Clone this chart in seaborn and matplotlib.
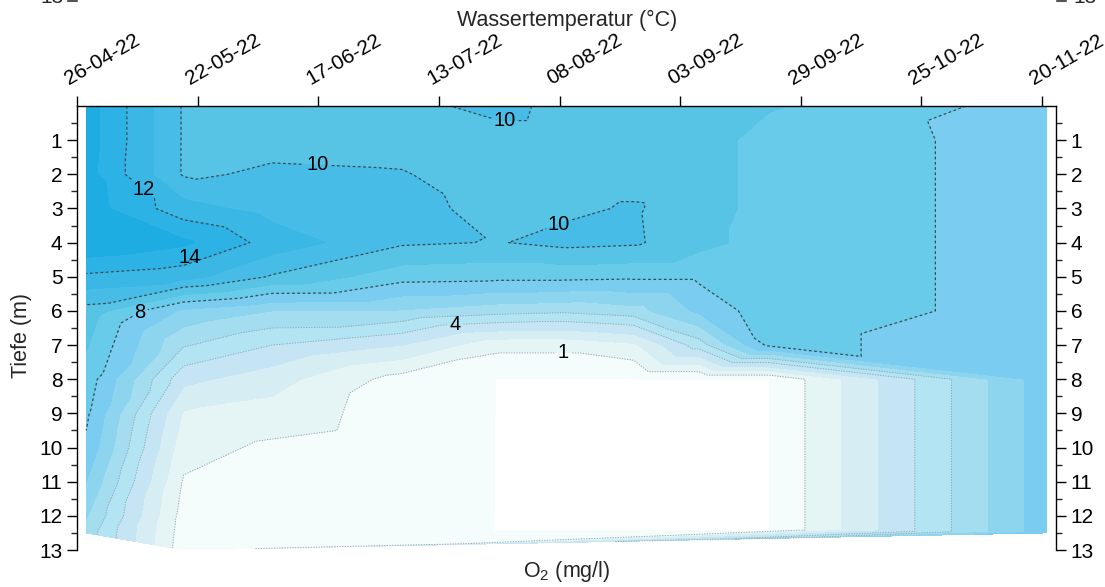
import numpy as np
import pandas as pd
import matplotlib
matplotlib.use("Agg")
import matplotlib.pyplot as plt
import matplotlib.tri as mtri
from matplotlib.ticker import FixedLocator
from matplotlib.transforms import ScaledTranslation
from matplotlib.lines import Line2D
import seaborn as sns

# ---------------- data ----------------
start_date = "2022-04-26"
end_date = "2022-11-23"
sample_dates = ["2022-04-28", "2022-05-19", "2022-06-07", "2022-07-05", "2022-07-26",
                "2022-08-09", "2022-08-24", "2022-09-07", "2022-09-22", "2022-11-21"]
depths = [0, 1, 2, 3, 4, 5, 6, 7, 8, 9, 10, 11, 12]
bottom_depth = [12.5, 13.0, 12.9, 12.85, 12.4, 12.4, 12.4, 12.4, 12.4, 12.5]

# O2 (mg/l) per sampling date: depths 0..12 m, then value at bottom_depth
o2_0428 = [13.5, 13.5, 13.4, 13.5, 13.9, 11.8, 9.6, 9.1, 8.6, 8.2, 7.8, 7.0, 6.1, 5.6]
o2_0519 = [9.9, 9.9, 9.9, 11.4, 13.2, 11.4, 6.8, 5.1, 3.3, 1.9, 1.4, 0.9, 0.6, 0.4]
o2_0607 = [9.8, 9.8, 10.1, 10.6, 11.6, 9.9, 6.0, 4.0, 2.4, 1.6, 0.8, 0.5, 0.35, 0.3]
o2_0705 = [9.7, 9.7, 10.05, 10.3, 10.15, 8.4, 5.9, 3.0, 0.6, 0.5, 0.4, 0.4, 0.35, 0.3]
o2_0726 = [10.3, 9.6, 9.6, 9.7, 9.95, 8.3, 5.4, 1.3, 0, 0, 0, 0, 0, 0]
o2_0809 = [9.7, 9.6, 9.6, 9.8, 10.3, 8.3, 5.2, 1.3, 0, 0, 0, 0, 0, 0]
o2_0824 = [9.6, 9.6, 9.6, 10.1, 10.15, 8.2, 5.6, 1.8, 0, 0, 0, 0, 0, 0]
o2_0907 = [9.5, 9.5, 9.5, 9.5, 9.3, 8.2, 7.2, 4.5, 0, 0, 0, 0, 0, 0]
o2_0922 = [9.1, 8.6, 8.6, 8.6, 8.6, 8.6, 8.6, 8.2, 0, 0, 0, 0, 0, 0]
o2_1121 = [7.55, 7.6, 7.6, 7.6, 7.6, 7.6, 7.6, 7.6, 7.6, 7.6, 7.6, 7.6, 7.6, 7.6]
profiles = [o2_0428, o2_0519, o2_0607, o2_0705, o2_0726,
            o2_0809, o2_0824, o2_0907, o2_0922, o2_1121]

fill_levels = [-1, 0.02, 1, 2, 3, 4, 5, 6, 7, 8, 9, 10, 11, 12, 13, 14, 20]
fill_colors = ["#ffffff", "#f4fcfc", "#e5f4f4", "#d5edf3", "#c5e5f5", "#b2e4f3",
               "#a3ddef", "#8dd5ee", "#7acdf0", "#68cbea", "#57c4e6", "#46bce6",
               "#3bb7e5", "#2db2e5", "#1eade3", "#12a7e0"]
light_line_levels = [1, 4, 5]
dark_line_levels = [8, 10, 12, 14]
tick_dates = ["2022-04-26", "2022-05-22", "2022-06-17", "2022-07-13", "2022-08-08",
              "2022-09-03", "2022-09-29", "2022-10-25", "2022-11-20"]
depth_ticks = [1, 2, 3, 4, 5, 6, 7, 8, 9, 10, 11, 12, 13]

# ---------------- build long table ----------------
t0 = pd.Timestamp(start_date)
rows = []
for d, prof, bd in zip(sample_dates, profiles, bottom_depth):
    day = (pd.Timestamp(d) - t0).days
    for z, v in zip(depths + [bd], prof):
        rows.append((day, z, v))
df = pd.DataFrame(rows, columns=["day", "depth", "o2"])

# ---------------- style ----------------
sns.set_theme(style="ticks")
plt.rcParams["font.family"] = ["Liberation Sans", "DejaVu Sans"]
plt.rcParams["mathtext.fontset"] = "custom"
plt.rcParams["mathtext.rm"] = "Liberation Sans"
plt.rcParams["mathtext.default"] = "regular"

W, H = 1105, 587
fig = plt.figure(figsize=(W / 100, H / 100), dpi=100)
ax = fig.add_axes([77 / W, 1 - 550 / H, (1056 - 77) / W, (550 - 106) / H])

tri = mtri.Triangulation(df["day"].values, df["depth"].values)
ax.tricontourf(tri, df["o2"].values, levels=fill_levels, colors=fill_colors)
cs_light = ax.tricontour(tri, df["o2"].values, levels=light_line_levels,
                         colors="#9aa7ad", linewidths=0.7, linestyles=[(0, (1.2, 1.5))])
cs_dark = ax.tricontour(tri, df["o2"].values, levels=dark_line_levels,
                        colors="#3e4a50", linewidths=0.9, linestyles=[(0, (2.2, 2.0))])

def day_of(s):
    return (pd.Timestamp(s) - t0).days

fmt = lambda v: f"{v:g}"
lab_dark = ax.clabel(cs_dark, levels=[8, 10, 12], inline=True, inline_spacing=3,
                     fontsize=14.5, colors="black", fmt=fmt,
                     manual=[(13.4, 6.0), (92.2, 0.44), (51.9, 1.75), (104.0, 3.5), (14.0, 2.5)])
lab_light = ax.clabel(cs_light, levels=[1, 4], inline=True, inline_spacing=3,
                      fontsize=14.5, colors="black", fmt=fmt,
                      manual=[(81.6, 6.66), (104.7, 7.24)])
for t in list(lab_dark) + list(lab_light):
    t.set_rotation(0)
ax.text(24.3, 4.44, "14", fontsize=14.5, ha="center", va="center", color="black")

# ---------------- axes ----------------
ax.set_xlim(0, day_of(end_date))
ax.set_ylim(13, 0)
ax.set_facecolor("white")

ax.xaxis.set_major_locator(FixedLocator([day_of(s) for s in tick_dates]))
ax.set_xticklabels([pd.Timestamp(s).strftime("%d-%m-%y") for s in tick_dates])
ax.tick_params(axis="x", bottom=False, labelbottom=False, top=True, labeltop=True,
               direction="out", length=7.2, width=1.0, pad=8, labelsize=15, colors="black")
for lab in ax.get_xticklabels():
    lab.set_rotation(30)
    lab.set_rotation_mode("anchor")
    lab.set_ha("left")
    lab.set_va("baseline")
    lab.set_transform(lab.get_transform() + ScaledTranslation(-8 / 100, 0, fig.dpi_scale_trans))

ax.yaxis.set_major_locator(FixedLocator(depth_ticks))
ax.yaxis.set_minor_locator(FixedLocator([v + 0.5 for v in range(0, 13)]))
ax.tick_params(axis="y", which="major", left=True, right=True, labelleft=True, labelright=True,
               direction="out", length=7.5, width=1.0, labelsize=15, pad=3, colors="black")
ax.tick_params(axis="y", which="minor", left=True, right=True,
               direction="out", length=4.2, width=1.0)
ax.grid(False)
for side in ["top", "left", "right"]:
    ax.spines[side].set_visible(True)
    ax.spines[side].set_linewidth(1.0)
    ax.spines[side].set_color("black")
ax.spines["bottom"].set_visible(False)

# ---------------- labels ----------------
fig.text(567 / W, 1 - 20 / H, "Wassertemperatur (°C)", ha="center", va="center", fontsize=15.5)
fig.text(567 / W, 1 - 572 / H, r"O$_2$ (mg/l)", ha="center", va="center", fontsize=15.5)
fig.text(21 / W, 1 - 335 / H, "Tiefe (m)", rotation=90, ha="center", va="center", fontsize=15.5)

# remnants of the panel above (cut at the top edge, as in the reference)
fig.text(52 / W, 1 + 3 / H, "13", ha="center", va="center", fontsize=15)
fig.text(1085 / W, 1 + 3 / H, "13", ha="center", va="center", fontsize=15)
fig.add_artist(Line2D([68 / W, 77 / W], [1 - 1 / H, 1 - 1 / H], color="#555555", lw=1.5))
fig.add_artist(Line2D([1057 / W, 1066 / W], [1 - 1 / H, 1 - 1 / H], color="#555555", lw=1.5))

fig.savefig("out.png", dpi=100, facecolor="white")
